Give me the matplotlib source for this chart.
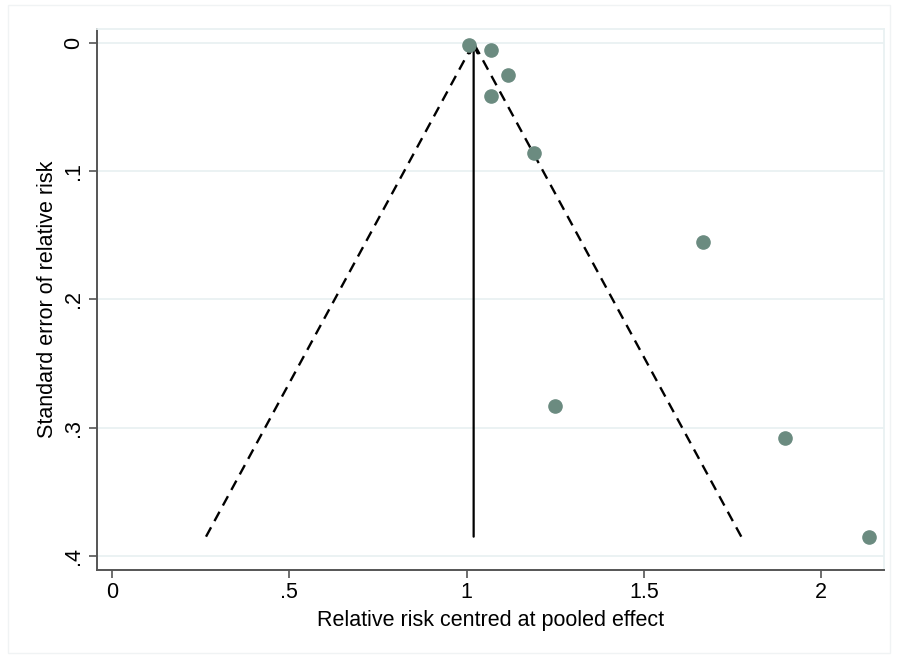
import matplotlib
matplotlib.use("Agg")
from matplotlib import pyplot as plt
from matplotlib.patches import Rectangle
import numpy as np

plt.rcParams["font.family"] = ["Liberation Sans", "DejaVu Sans"]

# study estimates
rr_centred = [1.006, 1.068, 1.118, 1.068, 1.189, 1.668, 1.248, 1.899, 2.135]
se_rr = [0.0016, 0.005, 0.025, 0.041, 0.086, 0.155, 0.283, 0.308, 0.385]
pooled = 1.02
se_max = 0.385

x_ticks = [0, 0.5, 1, 1.5, 2]
x_ticklabels = ["0", ".5", "1", "1.5", "2"]
y_ticks = [0, 0.1, 0.2, 0.3, 0.4]
y_ticklabels = ["0", ".1", ".2", ".3", ".4"]

fs = 15.5

fig = plt.figure(figsize=(8.98, 6.56), dpi=100)
ax = fig.add_axes([0.108, 0.1311, 0.8764, 0.8247])

grid_col = "#e9f1f2"
for yt in y_ticks:
    ax.axhline(yt, color=grid_col, lw=1.3, zorder=0)

# pseudo 95% confidence limits (drawn from the bottom up)
se_line = np.array([se_max, 0])
ax.plot(pooled - 1.96 * se_line, se_line, color="black", ls=(0, (4.5, 3)), lw=1.7)
ax.plot(pooled + 1.96 * se_line, se_line, color="black", ls=(0, (4.5, 3)), lw=1.7)
ax.annotate("", xy=(pooled, 0), xytext=(pooled, se_max),
            arrowprops=dict(arrowstyle="->", color="black", lw=1.6,
                            mutation_scale=14, shrinkA=0, shrinkB=0))

ax.plot(rr_centred, se_rr, "o", color="#6b8b80", markersize=9.5, zorder=5)

ax.set_xlim(-0.042, 2.177)
ax.set_ylim(0.411, -0.011)
ax.set_xticks(x_ticks)
ax.set_xticklabels(x_ticklabels, fontsize=fs)
ax.set_yticks(y_ticks)
ax.set_yticklabels(y_ticklabels, fontsize=fs, rotation=90, va="center")
ax.tick_params(length=6, width=1.2, color="#555555", pad=3)
ax.set_xlabel("Relative risk centred at pooled effect", fontsize=fs, labelpad=5)
ax.set_ylabel("Standard error of relative risk", fontsize=fs, labelpad=4)

for side in ["top", "right"]:
    ax.spines[side].set_color(grid_col)
    ax.spines[side].set_linewidth(1.3)
for side in ["left", "bottom"]:
    ax.spines[side].set_color("#555555")
    ax.spines[side].set_linewidth(1.4)

fig.patches.append(Rectangle((8 / 898, 0.005), 1 - 16 / 898, 1 - 5 / 656 - 0.005,
                             transform=fig.transFigure, fill=False,
                             edgecolor="#f0f3f4", lw=1))

fig.savefig("out.png", dpi=100)
